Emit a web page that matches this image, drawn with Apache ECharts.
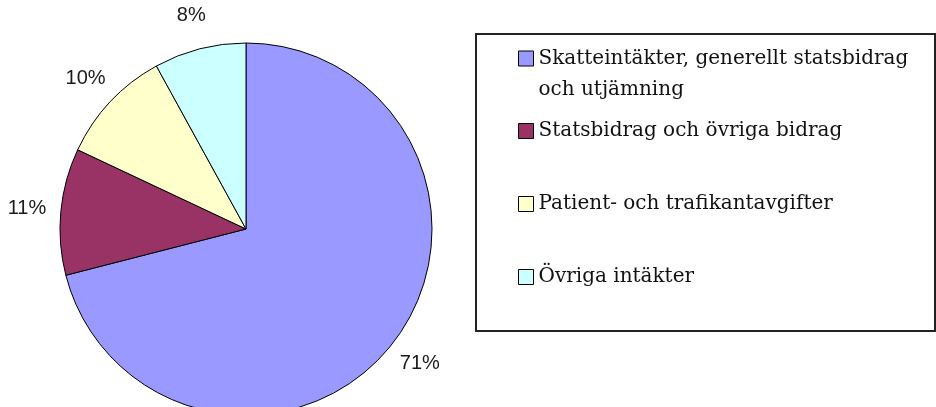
<!DOCTYPE html>
<html>
<head>
<meta charset="utf-8">
<script src="https://cdn.jsdelivr.net/npm/echarts@6/dist/echarts.min.js"></script>
<style>
  html, body { margin: 0; padding: 0; background: #fff; }
  #chart { width: 936px; height: 407px; }
</style>
</head>
<body>
<div id="chart"></div>
<script>
// data
var categories = [
  'Skatteintäkter, generellt statsbidrag\noch utjämning',
  'Statsbidrag och övriga bidrag',
  'Patient- och trafikantavgifter',
  'Övriga intäkter'
];
var shares = [71, 11, 10, 8];
var colors = ['#9999FF', '#993366', '#FFFFCC', '#CCFFFF'];

var pieData = [];
for (var i = 0; i < categories.length; i++) {
  pieData.push({ name: categories[i], value: shares[i], itemStyle: { color: colors[i] } });
}

var chart = echarts.init(document.getElementById('chart'));

var legendText = { fontFamily: 'DejaVu Serif', fontSize: 20, color: '#111', lineHeight: 31 };

chart.setOption({
  animation: false,
  color: colors,
  graphic: [{
    type: 'rect',
    shape: { x: 476, y: 34, width: 459, height: 297 },
    style: { fill: 'none', stroke: '#222', lineWidth: 2 },
    silent: true
  }],
  legend: [{
    orient: 'vertical',
    left: 518,
    top: 12,
    padding: 0,
    icon: 'rect',
    itemWidth: 15,
    itemHeight: 15,
    itemStyle: { borderColor: '#000', borderWidth: 1 },
    textStyle: legendText,
    // blank first line so the swatch sits beside the first text line
    formatter: function (name) { return '\n' + name; },
    data: [categories[0]],
    selectedMode: false
  }, {
    orient: 'vertical',
    left: 518,
    top: 119,
    padding: 0,
    icon: 'rect',
    itemWidth: 15,
    itemHeight: 15,
    itemGap: 49,
    itemStyle: { borderColor: '#000', borderWidth: 1 },
    textStyle: Object.assign({}, legendText, { lineHeight: 24 }),
    data: categories.slice(1),
    selectedMode: false
  }],
  series: [{
    type: 'pie',
    center: [246, 229],
    radius: [0, 186],
    startAngle: 90,
    clockwise: true,
    data: pieData,
    label: { show: false },
    labelLine: { show: false },
    itemStyle: { borderColor: '#000', borderWidth: 1 },
    emphasis: { disabled: true },
    silent: true
  }, {
    // invisible ring that only carries the percent labels
    type: 'pie',
    center: [246, 229],
    radius: [198, 236],
    startAngle: 90,
    clockwise: true,
    data: pieData.map(function (d) { return { name: d.name, value: d.value }; }),
    itemStyle: { color: 'rgba(0,0,0,0)', borderWidth: 0 },
    label: {
      show: true,
      position: 'inside',
      formatter: '{c}%',
      fontFamily: 'Liberation Sans',
      fontSize: 20,
      color: '#1a1a1a'
    },
    labelLine: { show: false },
    emphasis: { disabled: true },
    silent: true
  }]
});
</script>
</body>
</html>
